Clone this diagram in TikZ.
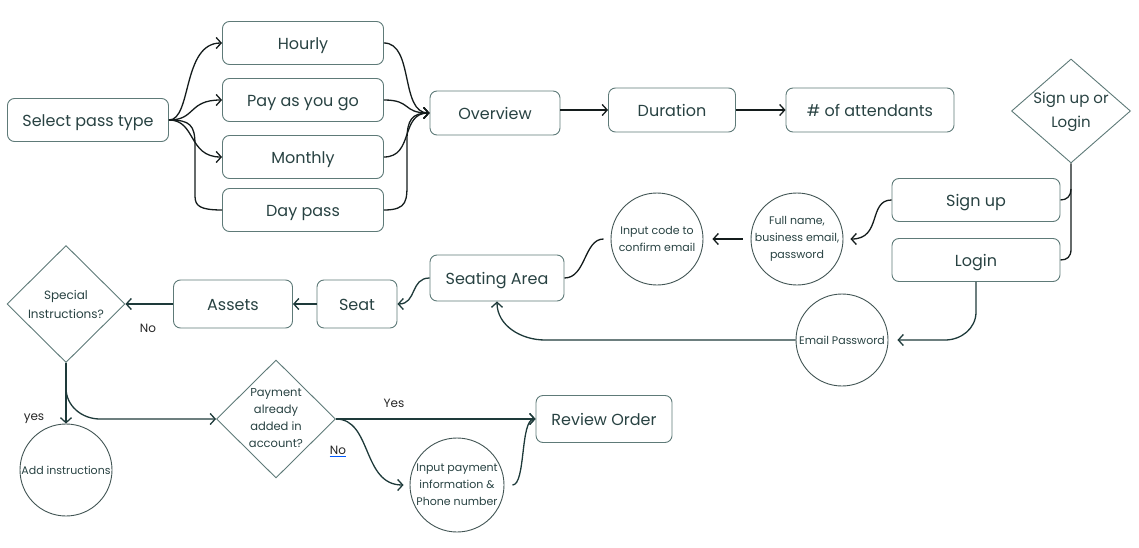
\documentclass[tikz,border=0pt]{standalone}
\usepackage{fontspec}
\setmainfont{Poppins}
\usetikzlibrary{arrows.meta,shapes.geometric}
\definecolor{txt}{RGB}{40,66,66}
\definecolor{bdr}{RGB}{94,122,120}
\definecolor{lnk}{RGB}{20,28,28}
\definecolor{lnkb}{RGB}{30,58,58}
\begin{document}
\begin{tikzpicture}[x=1pt,y=-1pt,
  box/.style={draw=bdr, line width=0.9pt, rounded corners=7pt, text=txt, inner sep=0pt,
    text height=13pt, text depth=0pt, font=\fontsize{16}{19}\selectfont},
  circ/.style={draw=bdr!70!black, circle, line width=0.9pt, minimum size=92pt, inner sep=-14pt,
    text=txt, align=center, font=\fontsize{11}{17}\selectfont},
  dia/.style={draw=bdr, diamond, line width=0.9pt, inner sep=-20pt, text=txt, align=center},
  tip/.style={-{Straight Barb[length=5pt,width=11pt]}},
  conn/.style={draw=lnk, line width=1.3pt, tip},
  plain/.style={draw=lnk, line width=1.3pt},
  connb/.style={draw=lnkb, line width=1.3pt, tip},
  plainb/.style={draw=lnkb, line width=1.3pt},
  lbl/.style={text=black!85, font=\fontsize{12}{14}\selectfont, inner sep=0pt}
]
\useasboundingbox (0,0) rectangle (1139,548);

% top row
\node[box, minimum width=161pt, minimum height=43pt] (sel) at (88,120) {Select pass type};
\node[box, minimum width=161pt, minimum height=43pt] (hour) at (303,43) {Hourly};
\node[box, minimum width=161pt, minimum height=43pt] (pay) at (303,100) {Pay as you go};
\node[box, minimum width=161pt, minimum height=43pt] (mon) at (303,157) {Monthly};
\node[box, minimum width=161pt, minimum height=43pt] (day) at (303,210) {Day pass};
\node[box, minimum width=130pt, minimum height=44pt] (ov) at (495,113) {Overview};
\node[box, minimum width=127pt, minimum height=44pt] (dur) at (672,110) {Duration};
\node[box, minimum width=168pt, minimum height=44pt] (att) at (870,110) {\# of attendants};

\node[dia, minimum width=119pt, minimum height=104pt, font=\fontsize{15}{24}\selectfont] (sud) at (1071,111)
  {\raisebox{-5pt}{\begin{tabular}{@{}c@{}}Sign up or\\Login\end{tabular}}};
\node[box, minimum width=168pt, minimum height=43pt] (su) at (976,200) {Sign up};
\node[box, minimum width=168pt, minimum height=43pt] (lg) at (976,260) {Login};

\node[circ] (fn) at (797,239) {Full name,\\business email,\\password};
\node[circ] (ic) at (657,239) {Input code to\\confirm email};
\node[box, minimum width=134pt, minimum height=46pt] (sa) at (497,278) {Seating Area};
\node[box, minimum width=80pt, minimum height=48pt] (seat) at (357,304) {Seat};
\node[box, minimum width=119pt, minimum height=48pt] (as) at (233,304) {Assets};
\node[dia, minimum width=118pt, minimum height=117pt, font=\fontsize{12}{19}\selectfont] (spi) at (66,304) {Special\\Instructions?};
\node[circ] (ep) at (842,340) {Email Password};

\node[dia, minimum width=119pt, minimum height=118pt, font=\fontsize{11.5}{17}\selectfont] (pd) at (276,419)
  {\raisebox{-2pt}{\begin{tabular}{@{}c@{}}Payment\\already\\added in\\account?\end{tabular}}};
\node[box, minimum width=136pt, minimum height=47pt] (ro) at (604,419) {Review Order};
\node[circ, minimum size=94pt] (ip) at (457,485) {Input payment\\information \&\\Phone number};
\node[circ] (ai) at (66,470) {Add instructions};

% labels
\node[lbl] (no1) at (148,328) {No};
\node[lbl] (yes1) at (34,419) {yes};
\node[lbl] (yes2) at (394,403) {Yes};
\node[lbl] (no2) at (338,450) {No};
\draw[blue!65!cyan, line width=1pt] ([yshift=-2pt]no2.south west) -- ([yshift=-2pt]no2.south east);

% select -> options
\draw[conn] (sel.east) .. controls (192,120) and (182,43) .. (hour.west);
\draw[conn] (sel.east) .. controls (196,120) and (188,100) .. (pay.west);
\draw[conn] (sel.east) .. controls (196,120) and (188,157) .. (mon.west);
\draw[plain] (sel.east) .. controls (190,120) and (195,125) .. (195,145) -- (195,196)
  .. controls (195,206) and (200,210) .. (day.west);

% options -> overview
\draw[conn] (hour.east) .. controls (414,43) and (400,113) .. (ov.west);
\draw[conn] (pay.east) .. controls (412,100) and (402,113) .. (ov.west);
\draw[conn] (mon.east) .. controls (414,157) and (400,113) .. (ov.west);
\draw[conn] (day.east) .. controls (408,210) and (407,200) .. (407,180) -- (407,140)
  .. controls (407,120) and (412,113) .. (ov.west);

\draw[conn] (ov.east |- dur.west) -- (dur.west);
\draw[conn] (dur.east) -- (att.west);

% sign up / login
\coordinate (br) at (1071,189);
\draw[plain] (sud.south) -- (1071,249) .. controls (1071,257) and (1067,260) .. (lg.east);
\draw[plain] (br) .. controls (1071,196) and (1067,200) .. (su.east);

\draw[conn] (su.west) .. controls (868,200) and (882,239) .. ([xshift=7pt]fn.east);
\draw[conn] ([xshift=-8pt]fn.west) -- ([xshift=9pt]ic.east);
\draw[plain] ([xshift=-7pt]ic.west) .. controls (584,239) and (586,278) .. (sa.east);

\draw[connb] (lg.south) -- (976,312) to[out=-90,in=0] (945,340) -- ([xshift=9pt]ep.east);
\draw[connb] (ep.west) -- (545,340) to[out=180,in=-90] (sa.south);

% lower left chain
\draw[connb] (sa.west) .. controls (410,278) and (417,304) .. (seat.east);
\draw[connb] (seat.west) -- (as.east);
\draw[connb] (as.west) -- (spi.east);
\draw[connb] (spi.south) -- (ai.north);
\draw[connb] (spi.south) -- (66,388) to[out=-90,in=180] (100,419) -- (pd.west);

% payment
\draw[connb] (pd.east) -- (ro.west);
\draw[connb] (pd.east) .. controls (372,419) and (362,485) .. ([xshift=-6pt]ip.west);
\draw[connb] ([xshift=8pt]ip.east) .. controls (526,485) and (520,419) .. (ro.west);
\end{tikzpicture}
\end{document}
